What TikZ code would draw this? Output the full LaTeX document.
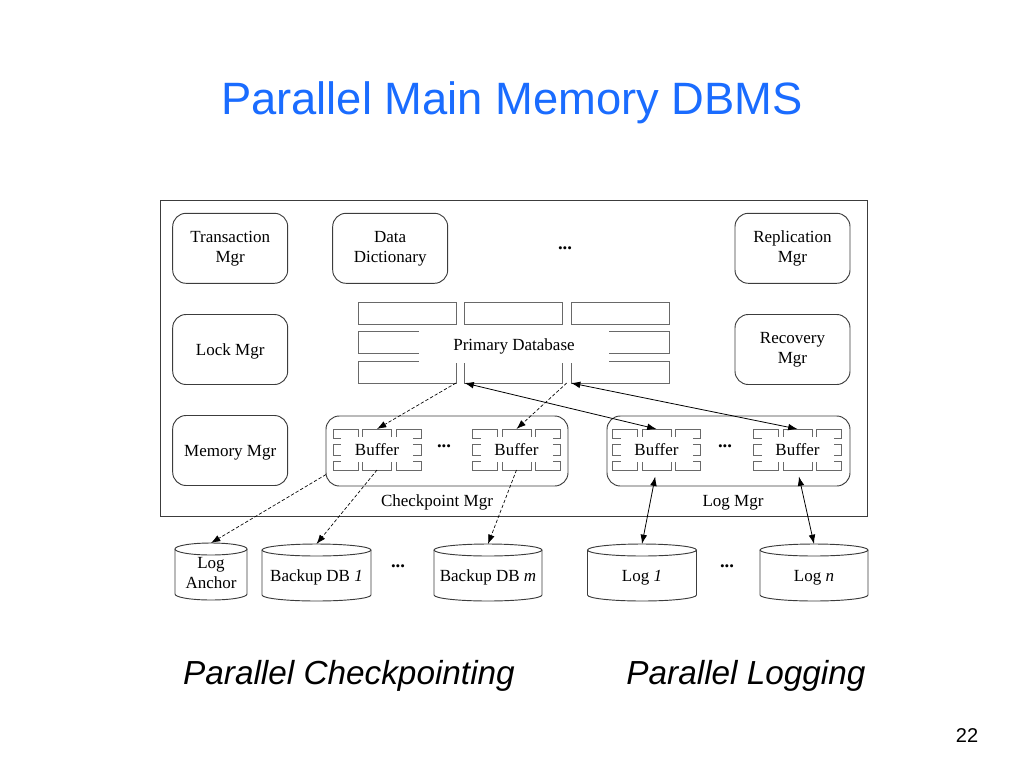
\documentclass[tikz,border=0pt]{standalone}
\usepackage{fontspec}
\setmainfont{Liberation Serif}
\newfontfamily\sansf{Liberation Sans}
\usetikzlibrary{arrows.meta,calc}
\definecolor{titleblue}{RGB}{26,108,255}
\definecolor{linegray}{RGB}{60,60,60}
\definecolor{cellgray}{RGB}{105,105,105}
\newcommand\drawcyl[2]{%
  \draw[cylline] (#1.north west) -- ($(#1.south west)+(0,-6)$)
    arc[start angle=180,end angle=360,x radius=#2,y radius=4.5pt] -- (#1.north east);
  \draw[cylline] (#1.north) ellipse[x radius=#2,y radius=4.5pt];
  \coordinate (#1-top) at ($(#1.north)+(0,-6)$);
}
\begin{document}
\begin{tikzpicture}[x=0.75pt,y=-0.75pt,
  every node/.style={font=\fontsize{12.75}{15}\selectfont, align=center, inner sep=0pt, outer sep=0pt},
  lbl/.style={execute at begin node={\rule{0pt}{11.5pt}}, execute at end node={\rule[-2.8pt]{0pt}{0pt}}},
  two/.style={execute at begin node={\rule{0pt}{14.5pt}}},
  mgr/.style={lbl, draw=linegray, line width=0.7pt, rounded corners=10pt, minimum width=86.25pt, minimum height=52.5pt},
  outerbox/.style={draw=linegray, line width=0.7pt, minimum width=529.9pt, minimum height=236.6pt},
  grp/.style={draw=linegray, line width=0.7pt, rounded corners=10pt, minimum height=52.5pt},
  pcell/.style={draw=cellgray, line width=0.5pt, minimum width=73.5pt, minimum height=16.5pt},
  bcell/.style={draw=cellgray, line width=0.5pt},
  mask/.style={lbl, fill=white},
  cyl/.style={lbl, minimum height=38.25pt},
  cylline/.style={draw=linegray, line width=0.7pt},
  dots/.style={font=\fontsize{14}{16}\selectfont\bfseries},
  dasharrow/.style={draw=black, line width=0.5pt, dash pattern=on 2.5pt off 1.5pt, -{Latex[length=7pt,width=5pt]}},
  solidboth/.style={draw=black, line width=0.6pt, {Latex[length=7pt,width=5pt]}-{Latex[length=7pt,width=5pt]}}
]
\useasboundingbox (0,0) rectangle (1024,768);

% title
\node[anchor=base, font=\sansf\fontsize{34}{40}\selectfont, text=titleblue] (title) at (512,114) {Parallel Main Memory DBMS};

% outer frame
\node[outerbox] (dbms) at (513.75,358.25) {};

% manager boxes
\node[mgr, two] (txn) at (230.2,248.3) {Transaction\\Mgr};
\node[mgr, two] (dd) at (390.2,248.3) {Data\\Dictionary};
\node[dots] (dtop) at (565,248) {...};
\node[mgr, two] (rep) at (792.5,248.3) {Replication\\Mgr};
\node[mgr] (lock) at (230.2,349.5) {Lock Mgr};
\node[mgr, two] (rec) at (792.5,349.5) {Recovery\\Mgr};
\node[mgr] (mem) at (230.2,450.5) {Memory Mgr};

% primary database grid
\foreach \c/\x in {1/407,2/513.5,3/620}
  \foreach \r/\y in {1/313,2/342,3/372}
    \node[pcell] (p\r\c) at (\x,\y) {};
\node[mask, minimum width=142.5pt, minimum height=27.4pt] (pdb) at (514,344.5) {Primary Database};

% manager groups
\node[grp, minimum width=181.5pt] (ckpt) at (447,451) {};
\node[grp, minimum width=182.25pt] (logm) at (728.5,451) {};
\node[lbl] (ckptlbl) at (437,501) {Checkpoint Mgr};
\node[lbl] (logmlbl) at (733,501) {Log Mgr};

% buffers
\foreach \n/\x in {cb1/377,cb2/516.5,lb1/656.5,lb2/797.5}{
  \foreach \c/\dx/\w in {l/-31.5/18.75pt,m/0/21.75pt,r/31.5/18.75pt}
    \foreach \r/\y/\h in {t/433.5/6.75pt,c/449.5/8.25pt,b/465.5/6.75pt}
      \node[bcell, minimum width=\w, minimum height=\h] (\n\c\r) at ({\x+\dx},\y) {};
  \node[mask, minimum width=54pt, minimum height=18.75pt] (\n) at (\x,449.5) {Buffer};
}
\node[dots] (dckpt) at (444,446) {...};
\node[dots] (dlog) at (725,446) {...};

% disks
\node[cyl, two, minimum width=54pt] (la) at (211,574.5) {Log\\Anchor};
\node[cyl, minimum width=81.75pt] (b1) at (316.5,575.5) {Backup DB \textit{1}};
\node[dots] (dbk) at (398,566) {...};
\node[cyl, minimum width=81pt] (bm) at (488,575.5) {Backup DB \textit{m}};
\node[cyl, minimum width=81.75pt] (l1) at (642,575.5) {Log \textit{1}};
\node[dots] (dlg) at (727,566) {...};
\node[cyl, minimum width=81pt] (ln) at (814,575.5) {Log \textit{n}};
\drawcyl{la}{27pt}
\drawcyl{b1}{40.875pt}
\drawcyl{bm}{40.5pt}
\drawcyl{l1}{40.875pt}
\drawcyl{ln}{40.5pt}

% connectors: primary database <-> buffers
\draw[dasharrow] (p31.south east) -- (cb1mt.north);
\draw[solidboth] (p32.south west) -- (lb1mt.north);
\draw[dasharrow] ($(p32.south east)!0.5!(p33.south west)$) -- (cb2mt.north);
\draw[solidboth] (p33.south west) -- (lb2mt.north);

% connectors: buffers <-> disks
\draw[dasharrow] (ckpt.191) -- (la-top);
\draw[dasharrow] (cb1mb.south) -- (b1-top);
\draw[dasharrow] (cb2mb.south) -- (bm-top);
\draw[solidboth, shorten <=5pt] (lb1mb.south) -- (l1-top);
\draw[solidboth, shorten <=5pt] (lb2mb.south) -- (ln-top);

% captions
\node[anchor=base, font=\sansf\itshape\fontsize{25}{30}\selectfont] (cap1) at (349,684) {Parallel Checkpointing};
\node[anchor=base, font=\sansf\itshape\fontsize{25}{30}\selectfont] (cap2) at (746,684) {Parallel Logging};
\node[anchor=base, font=\sansf\fontsize{15}{18}\selectfont] (pageno) at (967,742) {22};
\end{tikzpicture}
\end{document}
